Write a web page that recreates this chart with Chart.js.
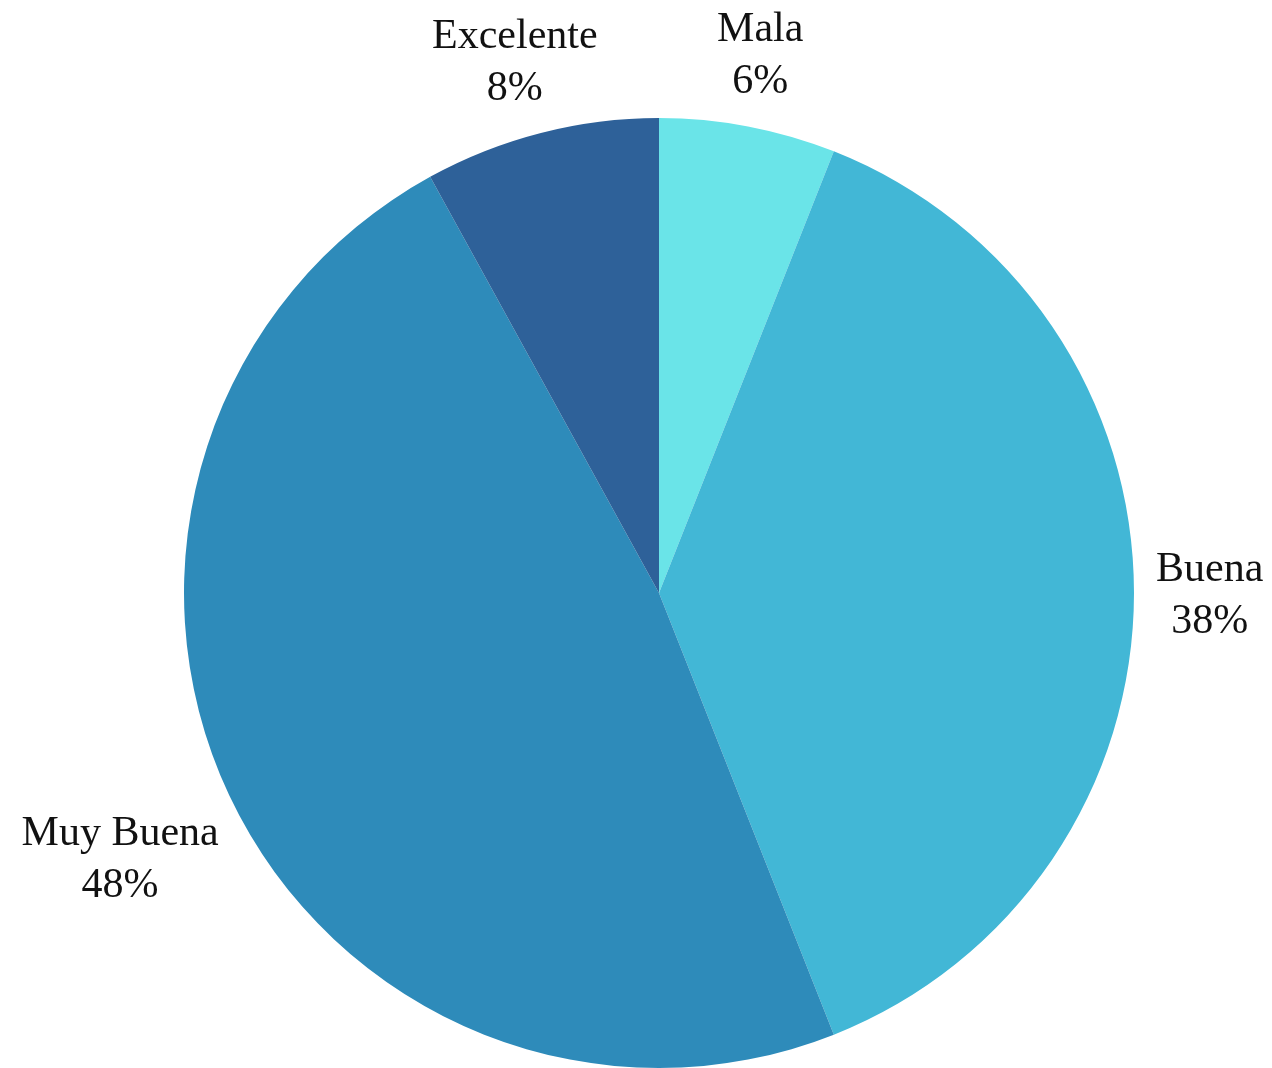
<!DOCTYPE html>
<html>
<head>
<meta charset="utf-8">
<script src="https://cdn.jsdelivr.net/npm/chart.js@4/dist/chart.umd.min.js"></script>
<style>
  html, body { margin: 0; padding: 0; background: #fff; }
  #wrap { width: 1272px; height: 1068px; }
</style>
</head>
<body>
<div id="wrap"><canvas id="pieChart"></canvas></div>
<script>
  const categories = ['Mala', 'Buena', 'Muy Buena', 'Excelente']
  const values = [6, 38, 48, 8]
  const colors = ['#6ae4e8', '#42b7d6', '#2e8bba', '#2e6199']

  const labelFont = '42px "Liberation Serif", "DejaVu Serif", serif'

  // draws "name / pct" outside each slice, box pushed away from the rim
  const outsideLabels = {
    id: 'outsideLabels',
    afterDatasetsDraw(chart) {
      const { ctx } = chart
      const meta = chart.getDatasetMeta(0)
      const total = values.reduce((a, b) => a + b, 0)
      ctx.save()
      ctx.font = labelFont
      ctx.fillStyle = '#111'
      ctx.textAlign = 'center'
      ctx.textBaseline = 'middle'
      meta.data.forEach((arc, i) => {
        const p = arc.getProps(['x', 'y', 'startAngle', 'endAngle', 'outerRadius'], true)
        const mid = (p.startAngle + p.endAngle) / 2
        const r = p.outerRadius + 22
        const ax = p.x + Math.cos(mid) * r
        const ay = p.y + Math.sin(mid) * r
        const pct = Math.round(values[i] / total * 100) + '%'
        const w = Math.max(ctx.measureText(categories[i]).width, ctx.measureText(pct).width)
        const lh = 52
        const c = Math.cos(mid)
        const s = Math.sin(mid)
        const cx = ax + c * w / 2
        const cy = ay + Math.sign(s) * Math.min(1, Math.abs(s) * 2.5) * lh + 3
        ctx.fillText(categories[i], cx, cy - lh / 2)
        ctx.fillText(pct, cx, cy + lh / 2)
      })
      ctx.restore()
    }
  }

  new Chart(document.getElementById('pieChart'), {
    type: 'pie',
    data: {
      labels: categories,
      datasets: [{
        data: values,
        backgroundColor: colors,
        borderWidth: 0
      }]
    },
    options: {
      responsive: true,
      maintainAspectRatio: false,
      animation: false,
      layout: { padding: { top: 118, left: 46, right: 0, bottom: -4 } },
      plugins: {
        legend: { display: false },
        tooltip: { enabled: false }
      }
    },
    plugins: [outsideLabels]
  })
</script>
</body>
</html>
